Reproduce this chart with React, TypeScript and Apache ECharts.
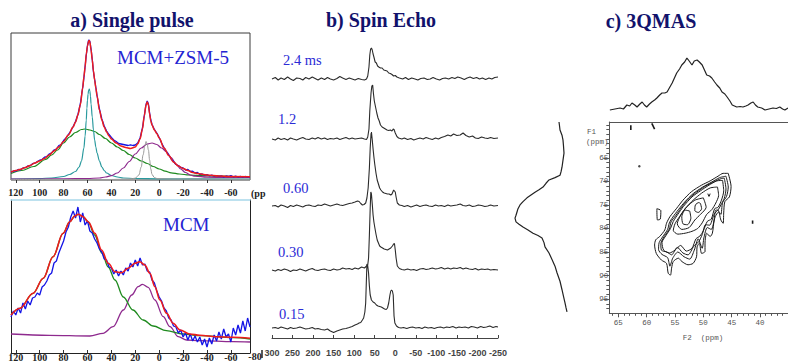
import React, { useEffect, useRef } from "react";
import * as echarts from "echarts";

type P = [number, number];

// ---------- a) Single pulse : MCM+ZSM-5 (ppm, intensity) ----------
const spTicks = [120, 100, 80, 60, 40, 20, 0, -20, -40, -60];

const zsmData: P[] = [[124,7.5],[122,9],[120,8.8],[118,10.5],[116,10.2],[114,12],[112,12.3],[110,14],[108,14.2],[106,16.3],[104,16.8],[102,18.5],[100,19.8],[98,20.5],[96,22.8],[94,23.5],[92,26],[90,27.2],[88,30],[86,31],[84,34.5],[82,35.5],[80,39.5],[78,42],[76,45.5],[74,49],[72,53.5],[70,58.5],[68,65.5],[66,76],[64,92.5],[63,102],[62,113.5],[61,125],[60,134.5],[59,140],[58,138.5],[57,131],[56,120.5],[55,108],[54,100.5],[52,84.5],[50,71],[48,61],[46,54],[44,49],[42,45.5],[40,42.5],[38,40],[36,38.5],[34,36.5],[32,36],[30,35.5],[28,35],[26,34.5],[24,35.2],[22,34.5],[20,35],[18,37],[16,42],[14,52],[12,68],[11,75.5],[10,79],[9,76],[8,67],[7,60],[6,55.5],[4,50.5],[2,47],[0,42.5],[-2,37],[-4,32.5],[-6,28.5],[-8,25],[-10,21],[-12,18.5],[-14,15.5],[-16,14.5],[-18,12.5],[-20,12],[-22,10],[-24,10.5],[-26,8.5],[-28,8.8],[-30,7],[-32,7.5],[-34,5.5],[-36,6],[-38,4.8],[-40,5.5],[-42,4.2],[-44,4.8],[-46,3.8],[-48,4.5],[-50,3.6],[-52,4.2],[-54,3.2],[-56,4],[-58,3.5],[-60,4.5],[-62,3.2],[-64,3.8],[-66,3],[-68,3.6],[-70,2.8],[-72,3.5],[-74,2.9],[-76,3.4]];
const zsmFit: P[] = [[124,8],[120,9.5],[116,10.7],[112,12.5],[108,14.5],[104,17],[100,19],[96,21.5],[92,25],[88,29],[84,33],[80,38.5],[76,45],[72,53],[70,58],[68,65],[66,75],[64,92],[63,103],[62,113],[61,126],[60,134],[59,139],[58.5,139.5],[58,138],[57,130],[56,120],[55,109],[54,100],[53,92],[52,84],[50,70],[48,60],[46,53],[44,48],[42,44],[40,41],[36,37],[32,34],[28,32.5],[24,31.5],[20,33],[18,36],[16,41],[14,51],[12.5,64],[11,75],[10,78],[9,75],[8,66],[7,59],[6,55],[4,50],[2,46.5],[0,42],[-4,32],[-8,24.5],[-12,18],[-16,14],[-20,11.5],[-24,9.5],[-28,7.5],[-32,6.5],[-40,5],[-50,4],[-60,3.5],[-76,3.3]];
const zsmBroad: P[] = [[124,6.5],[115,9.5],[105,13.5],[95,20.5],[90,25],[85,30],[80,37],[75,43],[70,47.5],[65,50.5],[62,51],[58,50],[54,48.5],[50,45.5],[45,41.5],[40,37],[35,33],[30,29.5],[25,25.5],[20,22],[15,19],[10,16.5],[5,13.5],[0,11],[-5,8.8],[-10,7.2],[-17,6],[-25,5],[-35,4.3],[-50,3.8],[-65,3.4],[-76,3.2]];
const zsmNarrow: P[] = [[124,1],[100,1.5],[90,2],[80,3.5],[75,5.5],[70,8.5],[67,13],[65,19],[63,32],[62,44],[61,60],[60.5,72],[60,80],[59.5,86],[59,90],[58.5,91],[58,89],[57.5,84],[57,76],[56,63],[55,50],[54,40],[53,33],[52,27],[50,19],[48,13],[46,9.5],[44,7],[40,4.5],[35,3],[30,2],[20,1.5],[0,1.2],[-76,1]];
const zsmFramework: P[] = [[124,0.8],[100,1],[80,1.2],[60,1.5],[50,2],[45,3],[40,4.3],[35,7],[30,12],[25,18.5],[20,26],[15,32],[10,36],[6,37],[2,35.5],[-2,32],[-6,28.5],[-10,22.5],[-14,16],[-18,11],[-22,7.5],[-26,5],[-30,3.8],[-40,2.8],[-55,2.6],[-76,2.5]];
const zsmSharp: P[] = [[124,0.5],[40,0.5],[25,1],[20,1.8],[17,5],[15,13],[13.5,25],[12,34],[11,38.5],[10,36],[9,30],[8,20],[7,11],[6,5.5],[4,2.5],[2,1.5],[-10,1],[-76,0.8]];

// ---------- a) Single pulse : MCM ----------
const mcmData: P[] = [[124,36],[122,42],[120,38],[118,45],[116,40],[114,50],[112,44],[110,52],[108,48],[106,55],[104,56],[102,60],[100,58],[98,66],[96,68],[94,72],[92,78],[90,80],[88,90],[86,92],[84,100],[82,106],[80,112],[78,121],[76,126],[74,136],[72,142],[70,135],[68,146],[66,131],[64,140],[62,128],[60,132],[58,122],[56,120],[54,114],[52,110],[50,104],[48,101],[46,94],[44,93],[42,86],[40,85],[38,79],[36,83],[34,77],[32,82],[30,78],[28,85],[26,82],[24,90],[22,86],[20,93],[18,87],[16,95],[14,88],[12,89],[10,82],[8,81],[6,73],[4,70],[2,62],[0,56],[-2,52],[-4,45],[-6,42],[-8,35],[-10,33],[-12,27],[-14,26],[-16,20],[-18,23],[-20,16],[-22,20],[-24,13],[-26,19],[-28,12],[-30,17],[-32,11],[-34,16],[-36,8],[-38,14],[-40,6],[-42,15],[-44,9],[-46,18],[-48,12],[-50,21],[-52,14],[-54,24],[-56,16],[-58,19],[-60,11],[-62,25],[-64,18],[-66,28],[-68,20],[-70,32],[-72,22],[-74,35],[-76,26]];
const mcmFit: P[] = [[124,38],[116.6,44.7],[105.5,59.7],[97,74.7],[88.8,96.3],[80.4,119.7],[74.8,131.3],[70.6,137],[67.8,138.7],[63.6,136.3],[59.4,131.3],[53.8,119.7],[48.2,103],[42.6,89.7],[37,81.3],[31.5,80.3],[26,84.7],[20.3,89.7],[16.2,91.3],[12,88],[7.8,79.7],[3.6,66.3],[-0.6,53],[-6.2,39.7],[-11.7,29.7],[-17.4,23],[-25.7,19],[-34,17.7],[-48,16.3],[-62,15.7],[-76,14.7]];
const mcmBroad: P[] = [[124,38],[116.6,44.7],[105.5,59.7],[97,74.7],[88.8,96.3],[80.4,119.7],[74.8,131.3],[70.6,137],[67.8,138.7],[63.6,136.3],[59.4,131],[54,118],[48,100],[42.6,86],[37,73],[30,56],[22,43],[13.4,33],[5,27],[-6,22.3],[-20,19],[-34,17.3],[-62,15.3],[-76,14]];
const mcmSecond: P[] = [[124,19],[92,17.7],[58,17],[47,19.7],[38.5,26.3],[30,43],[23,58],[17.6,66.3],[14,68.7],[9.2,65.7],[3.6,53],[-3.4,36.3],[-9,26.3],[-16,16.3],[-23,13],[-34,12.3],[-62,11.3],[-76,11]];

// ---------- b) Spin echo (ppm, intensity) ----------
const echoTimes = ["2.4 ms", "1.2", "0.60", "0.30", "0.15"];
const echo24: P[] = [[300,0],[292,1.5],[285,-1],[278,1],[270,-0.5],[262,2],[255,0],[248,-1.5],[240,1],[232,0.5],[225,-1],[218,1.5],[210,0],[202,2],[195,0.5],[188,-1],[180,1],[172,-0.5],[165,1.5],[158,0],[150,-1],[142,0.5],[135,2.5],[128,1],[120,-0.5],[112,1],[105,0],[98,-1],[90,0.5],[82,-0.5],[75,-1],[70,0],[67,3],[64,12],[62,24],[60,30],[58,31],[56,29],[54,25],[52,22],[49,17],[46,16],[43,13],[40,12],[36,11],[32,11],[28,9],[24,8.5],[20,8],[16,6],[12,5.5],[8,4.5],[4,3],[0,3.5],[-4,2],[-10,1],[-18,0],[-25,1.5],[-32,-0.5],[-40,1],[-48,0],[-55,-1],[-62,0.5],[-70,1],[-78,-0.5],[-85,0],[-92,1.5],[-100,0],[-108,-1],[-115,0.5],[-122,1],[-130,0],[-138,1.5],[-145,0.5],[-152,2],[-160,1],[-168,-0.5],[-175,1],[-182,2],[-190,0.5],[-198,1.5],[-205,0],[-212,1],[-220,-0.5],[-228,1],[-235,0],[-242,1.5],[-250,2]];
const echo12: P[] = [[300,0],[292,-1],[285,1],[278,-0.5],[270,0.5],[262,-1],[255,1],[248,0],[240,-1],[232,0.5],[225,1.5],[218,0],[210,-0.5],[202,1],[195,0],[188,1.5],[180,0],[172,1],[165,-0.5],[158,0.5],[150,0],[142,1],[135,-0.5],[128,0.5],[120,1.5],[112,0],[105,1],[98,0],[90,0.5],[82,1],[75,0],[70,-0.5],[67,2],[64,10],[62,28],[59,46],[57,53],[55,54],[53,45],[51,38],[48,32],[45,26],[42,21],[39,18],[36,14],[32,12],[28,11],[24,10],[20,9],[16,8.5],[12,9],[8,8],[5,10],[3,9.5],[0,6],[-4,2.5],[-8,1],[-16,0],[-22,1],[-30,-0.5],[-38,0.5],[-45,-1],[-52,0],[-60,1],[-68,0],[-75,1.5],[-82,0.5],[-90,-0.5],[-98,1],[-105,0],[-112,1.5],[-120,2.5],[-128,4],[-135,3],[-142,5],[-150,3.5],[-158,4],[-165,6],[-172,3.5],[-180,2],[-188,3],[-195,1],[-202,0.5],[-210,2],[-218,1],[-225,0.5],[-232,1.5],[-240,0.5],[-250,1]];
const echo060: P[] = [[300,0],[292,0.5],[285,-1],[278,1],[270,0],[262,-1.5],[255,0.5],[248,-0.5],[240,1],[232,0],[225,-1],[218,0.5],[210,1],[202,0],[195,-0.5],[188,1],[180,0.5],[172,2],[165,1],[158,0],[150,1],[142,2],[135,1],[128,0.5],[120,1.5],[112,2.5],[105,3],[98,4],[92,5],[88,4.5],[84,2.5],[80,1],[76,1.5],[72,3],[69,8],[66,18],[63,38],[61,58],[59,72],[58,74],[56,66],[54,57],[52,49],[50,42],[47,33],[44,26],[41,22],[38,18],[35,16],[31,14],[27,13],[23,12.5],[19,12],[15,12],[11,11],[8,12],[6,14],[4,16],[2,15],[0,14],[-2,9],[-5,3],[-10,1],[-16,0.5],[-22,-0.5],[-30,0.5],[-38,-1],[-45,0],[-52,1],[-60,-0.5],[-68,0.5],[-75,1],[-82,0],[-90,-0.5],[-98,1],[-105,0],[-112,0.5],[-120,-0.5],[-128,1],[-135,0],[-142,0.5],[-150,1],[-158,2],[-165,0.5],[-172,0],[-180,1],[-188,-0.5],[-195,0],[-202,1],[-210,0.5],[-218,-0.5],[-225,0],[-232,1],[-240,0],[-250,0.5]];
const echo030: P[] = [[300,0],[292,-1],[285,0.5],[278,-0.5],[270,1],[262,0],[255,-1.5],[248,0],[240,-0.5],[232,1],[225,0],[218,-1],[210,0.5],[202,1.5],[195,0],[188,-0.5],[180,0.5],[172,1],[165,0],[158,-0.5],[150,1],[142,0],[135,0.5],[128,2],[120,1],[112,1.5],[105,0.5],[98,2],[90,1],[82,3],[75,2],[71,3.5],[67,5],[65,12],[63,35],[61,62],[59.5,78],[58,76],[56,66],[54,55],[52,48],[50,43],[47,36],[44,30],[41,27],[38,24],[35,23],[31,22],[27,21],[23,20.5],[19,20],[15,21],[11,22],[7,24],[4,26],[2,26.5],[0,20],[-2,12],[-5,4],[-10,1.5],[-16,0.5],[-22,0],[-30,1],[-38,0],[-45,0.5],[-52,-0.5],[-60,1],[-68,1.5],[-75,0.5],[-82,1],[-90,2],[-98,1],[-105,1.5],[-112,2.5],[-120,1],[-128,2],[-135,1],[-142,2],[-150,1.5],[-158,2.5],[-165,1],[-172,2],[-180,1],[-188,0.5],[-195,1.5],[-202,0],[-210,1],[-218,0.5],[-225,1],[-232,0],[-240,0.5],[-250,0]];
const echo015: P[] = [[300,0],[292,0.5],[285,-0.5],[278,1],[270,0],[262,-1],[255,0.5],[248,-0.5],[240,0],[232,1],[225,0],[218,-1],[210,-0.5],[202,0.5],[195,-1],[188,-0.5],[180,-1.5],[172,-2],[165,-1],[158,-3],[150,-4.5],[142,-3],[135,-2],[128,-1],[120,-0.5],[112,0.5],[105,1.5],[98,3],[92,4],[88,5],[84,5.5],[80,8],[77,10],[74,16],[72,25],[70.5,45],[69,64],[67,62],[65,55],[63,42],[61,33],[58,28],[54,26],[50,25],[46,23],[42,22],[38,21.5],[34,21],[30,20],[26,19],[22,18.5],[19,20],[16,25],[13,33],[11,37],[9,38],[7,37],[5,33],[3,12],[1,5],[-3,2],[-8,0.5],[-14,0],[-20,0.5],[-28,-0.5],[-35,0.5],[-42,1],[-50,0],[-58,0.5],[-65,-0.5],[-72,1],[-80,0],[-88,0.5],[-95,-0.5],[-102,0.5],[-110,1],[-118,0],[-125,1],[-132,0.5],[-140,1.5],[-148,0],[-155,1],[-162,0.5],[-170,1],[-178,0],[-185,1.5],[-192,1],[-200,0],[-208,1.5],[-215,0.5],[-222,1],[-230,2],[-238,0.5],[-245,1.5],[-250,1]];

// ---------- c) 3QMAS ----------
const f2Major = [65, 60, 55, 50, 45, 40];
const f2Minor = [66,64,63,62,61,59,58,57,56,54,53,52,51,49,48,47,46,44,43,42,41,39,38,37,36];
const f1Major = [65, 70, 75, 80, 85, 90, 95];
const f1Minor = [58,59,60,61,62,63,64,66,67,68,69,71,72,73,74,76,77,78,79,81,82,83,84,86,87,88,89,91,92,93,94,96,97];

// F2 projection (F2 ppm, intensity)
const f2Projection: P[] = [[66.5,2],[65.6,3],[64.7,4],[64.1,3],[63.5,7],[63.0,6],[62.6,9],[62.1,7],[61.7,5],[61.2,8],[60.8,10],[60.4,7],[60.0,5],[59.5,8],[59.1,10],[58.6,12],[58.2,14],[57.7,17],[57.3,19],[56.8,19],[56.4,20],[56.0,24],[55.5,29],[55.1,34],[54.7,39],[54.2,43],[53.8,47],[53.3,50],[52.9,54],[52.5,51],[52.0,47],[51.6,51],[51.1,52],[50.7,50],[50.2,47],[49.8,42],[49.4,37],[48.9,36],[48.5,34],[48.0,30],[47.6,27],[47.1,24],[46.7,20],[46.2,18],[45.8,15],[45.3,11],[44.9,7],[44.5,6],[44.1,5],[43.5,5.5],[43.0,5],[42.5,6],[42.1,7],[41.6,9],[41.2,10],[40.8,7],[40.4,5],[39.7,4],[39.1,2],[38.4,3],[37.7,4],[37.1,3.5],[36.5,5],[36.0,3],[35.6,2],[35.05,4]];
// F1 projection (intensity, F1 ppm)
const f1Projection: P[] = [[8,57.4],[7.5,58.2],[7,59.1],[5,60.2],[4,61.25],[3.5,62.5],[3,64.0],[4,65.5],[5,67.0],[6,68.0],[7,68.7],[12,69.2],[18,69.7],[21,70.4],[24,71.2],[28,71.8],[32,72.3],[36,72.9],[40,73.5],[44,74.3],[47,75.0],[49,75.8],[50,76.5],[51,77.2],[52,77.8],[51,78.6],[48,79.1],[44,79.7],[39,80.3],[34,81.0],[29,81.5],[25,82.0],[23,83.0],[22,83.9],[18,85.2],[15,86.6],[12,88.0],[10,89.4],[7,91.2],[5,93.0],[3.5,94.4],[2,95.8],[1,96.8],[0,97.7]];
// contour levels (F2 ppm, F1 ppm)
const contour1: P[] = [[45.6,68.3],[45.1,71.1],[45.4,73.3],[46.2,74.3],[46.4,76.7],[46.5,78.9],[46.9,78.2],[47.4,76.1],[47.8,76.1],[48.1,78.2],[48.4,81.0],[48.8,81.7],[49.4,81.0],[49.7,83.1],[49.7,84.9],[50.3,85.3],[50.7,83.1],[51.1,83.9],[51.2,86.0],[51.8,87.4],[52.7,87.7],[53.8,87.0],[54.4,86.3],[55.3,87.0],[55.6,88.4],[55.8,89.9],[56.2,89.5],[56.5,87.4],[57.4,86.7],[58.3,85.3],[58.6,83.5],[58.4,82.4],[57.7,81.7],[56.8,80.3],[56.5,78.9],[55.9,77.5],[54.7,75.7],[53.6,74.0],[52.1,72.2],[50.3,70.8],[48.8,69.9],[47.4,68.9],[46.5,68.3],[45.6,68.3]];
const contour2: P[] = [[46.0,68.9],[45.6,71.2],[45.9,73.2],[46.6,74.5],[46.9,77.0],[47.3,76.5],[47.9,77.5],[48.6,80.2],[49.3,79.8],[49.9,82.0],[50.2,84.2],[50.9,82.2],[51.6,84.6],[52.4,86.5],[53.4,86.0],[54.5,85.0],[55.4,86.3],[55.9,88.0],[56.3,86.2],[57.3,85.5],[57.9,84.5],[57.8,83.0],[57.2,81.8],[56.3,80.2],[56.0,78.8],[55.4,77.6],[54.4,76.0],[53.3,74.4],[51.8,72.6],[50.1,71.2],[48.6,70.2],[47.1,69.2],[46.0,68.9]];
const contour2b: P[] = [[46.3,69.3],[46.0,71.6],[46.3,73.6],[46.9,75.0],[47.3,75.9],[48.1,77.0],[48.9,79.3],[49.6,79.2],[50.2,81.3],[50.8,82.8],[51.7,83.8],[52.7,85.6],[53.6,85.2],[54.6,84.0],[55.6,85.6],[56.4,85.0],[57.4,84.6],[57.5,83.2],[56.9,81.7],[56.0,80.1],[55.7,78.6],[54.9,77.3],[53.9,75.6],[52.7,73.8],[51.2,72.3],[49.6,71.0],[48.0,70.0],[46.8,69.4],[46.3,69.3]];
const contour3: P[] = [[46.6,69.8],[46.4,72.0],[46.8,74.0],[47.4,75.5],[48.0,75.8],[48.6,78.0],[49.3,78.5],[50.0,80.5],[50.6,81.6],[51.3,82.2],[52.0,84.2],[53.0,84.8],[54.0,83.6],[55.0,84.6],[56.0,85.2],[57.0,84.6],[57.3,83.0],[56.6,81.5],[55.8,80.0],[55.3,78.5],[54.5,77.0],[53.5,75.3],[52.0,73.3],[50.5,72.0],[49.0,70.8],[47.6,69.9],[46.6,69.8]];
const contour4: P[] = [[47.5,71.2],[47.3,73.0],[47.8,74.6],[48.5,76.0],[49.4,77.0],[50.2,78.8],[51.0,80.0],[52.0,80.6],[53.2,81.0],[54.5,81.2],[55.3,80.4],[55.0,79.0],[54.2,77.5],[53.2,75.8],[51.8,74.0],[50.3,72.5],[48.8,71.4],[47.5,71.2]];
const contour5: P[] = [[50.0,73.5],[49.5,75.5],[50.5,77.0],[51.5,78.2],[52.5,79.8],[53.8,80.2],[54.6,79.0],[54.0,77.2],[53.0,75.5],[51.5,74.0],[50.0,73.5]];
const contour6a: P[] = [[52.4,76.3],[52.2,77.8],[52.8,79.2],[53.6,79.0],[53.8,77.5],[53.2,76.1],[52.4,76.3]];
const contour6b: P[] = [[50.5,74.7],[50.3,75.8],[50.9,76.6],[51.5,76.2],[51.4,75.0],[50.8,74.5],[50.5,74.7]];
const contourSide: P[] = [[58.2,75.8],[58.1,78.2],[57.6,78.0],[57.5,76.2],[58.2,75.8]];
const contourTick: P[] = [[49.2,72.6],[49.0,73.2],[48.8,72.6]];
const speck1: P[] = [[62.8,58.1],[62.8,59.1]];
const speck2: P[] = [[59.1,57.7],[58.6,58.9]];
const speck3: P[] = [[41.3,78.3],[41.3,79.0]];
const speckDots: P[] = [[61.3,66.8]];

const SERIF = "'Liberation Serif', 'Times New Roman', serif";
const MONO = "'Liberation Mono', 'DejaVu Sans Mono', monospace";

function line(data: P[], xi: number, yi: number, color: string, width: number, extra: any = {}) {
  return {
    type: "line", data, xAxisIndex: xi, yAxisIndex: yi, showSymbol: false, symbol: "none",
    lineStyle: { color, width }, clip: false, silent: true, animation: false, ...extra,
  };
}

function buildOption() {
  const grids: any[] = [
    { left: 11, top: 33, width: 239, height: 147, show: true, borderColor: "#3a3a3a", borderWidth: 1 },
    { left: 11, top: 200, width: 239, height: 153 },
    { left: 272, top: 9, width: 226, height: 80 },
    { left: 272, top: 69, width: 226, height: 80 },
    { left: 272, top: 136, width: 226, height: 80 },
    { left: 272, top: 200, width: 226, height: 80 },
    { left: 272, top: 258, width: 226, height: 80 },
    { left: 609.3, top: 50, right: 0, height: 62 },
    { left: 510, top: 122, width: 57, height: 191.3 },
    { left: 609.3, top: 122, right: 0, height: 191.3 },
  ].map((g) => ({ containLabel: false, outerBoundsMode: "none", ...g }));

  const hidden = (gi: number, min: number, max: number, inverse = false) => ({
    type: "value", gridIndex: gi, min, max, inverse, show: false,
  });
  const lineOn = (color: string, width = 1) => ({ show: true, onZero: false, lineStyle: { color, width } });
  const noLine = { show: false, onZero: false };
  const spLabel = { fontFamily: SERIF, fontWeight: "bold", fontSize: 10, color: "#222" };
  const c2Label = { fontFamily: MONO, fontSize: 7.5, color: "#555" };

  const xAxis: any[] = [
    { type: "value", gridIndex: 0, min: -76, max: 124, inverse: true, position: "bottom",
      axisLine: noLine, splitLine: { show: false },
      axisTick: { show: true, length: 3, customValues: spTicks, lineStyle: { color: "#333" } },
      axisLabel: { ...spLabel, customValues: spTicks, margin: 7 } },
    { type: "value", gridIndex: 1, min: -76, max: 124, inverse: true, position: "bottom",
      axisLine: lineOn("#222"), splitLine: { show: false },
      axisTick: { show: true, inside: true, length: 3, customValues: spTicks, lineStyle: { color: "#333" } },
      axisLabel: { ...spLabel, customValues: spTicks, margin: -1 } },
    { type: "value", gridIndex: 1, min: -76, max: 124, inverse: true, position: "top",
      axisLine: lineOn("#a8d8ea", 1.5),
      axisTick: { show: false }, axisLabel: { show: false }, splitLine: { show: false } },
    hidden(2, -250, 300, true),
    hidden(3, -250, 300, true),
    hidden(4, -250, 300, true),
    hidden(5, -250, 300, true),
    { type: "value", gridIndex: 6, min: -250, max: 300, interval: 50, inverse: true, position: "bottom",
      axisLine: lineOn("#444"), splitLine: { show: false },
      axisTick: { show: true, inside: true, length: 3, lineStyle: { color: "#444" } },
      axisLabel: { fontFamily: "'Liberation Sans', Arial, sans-serif", fontWeight: "bold", fontSize: 9, color: "#444", margin: 10 } },
    hidden(7, 35.05, 66.6, true),
    hidden(8, 0, 57, true),
    { type: "value", gridIndex: 9, min: 35.05, max: 66.6, inverse: true, position: "bottom",
      axisLine: lineOn("#555"), splitLine: { show: false },
      axisTick: { show: true, length: 4, customValues: f2Major, lineStyle: { color: "#555" } },
      axisLabel: { ...c2Label, customValues: f2Major, margin: 6 } },
    { type: "value", gridIndex: 9, min: 35.05, max: 66.6, inverse: true, position: "bottom",
      axisLine: noLine, splitLine: { show: false }, axisLabel: { show: false },
      axisTick: { show: true, length: 2.5, customValues: f2Minor, lineStyle: { color: "#555" } } },
    { type: "value", gridIndex: 9, min: 35.05, max: 66.6, inverse: true, position: "top",
      axisLine: lineOn("#555"), axisTick: { show: false }, axisLabel: { show: false }, splitLine: { show: false } },
  ];

  const yAxis: any[] = [
    hidden(0, 0, 147),
    { type: "value", gridIndex: 1, min: 0, max: 153, position: "left",
      axisLine: lineOn("#222"),
      axisTick: { show: false }, axisLabel: { show: false }, splitLine: { show: false } },
    { type: "value", gridIndex: 1, min: 0, max: 153, position: "right",
      axisLine: lineOn("#222"),
      axisTick: { show: false }, axisLabel: { show: false }, splitLine: { show: false } },
    hidden(2, -10, 70),
    hidden(3, -10, 70),
    hidden(4, -10, 70),
    hidden(5, -10, 70),
    hidden(6, -10, 70),
    hidden(7, 0, 62),
    hidden(8, 57.4, 98, true),
    { type: "value", gridIndex: 9, min: 57.4, max: 98, inverse: true, position: "left",
      axisLine: lineOn("#555"), splitLine: { show: false },
      axisTick: { show: true, length: 6, customValues: f1Major, lineStyle: { color: "#555" } },
      axisLabel: { ...c2Label, customValues: f1Major, margin: 1 } },
    { type: "value", gridIndex: 9, min: 57.4, max: 98, inverse: true, position: "left",
      axisLine: noLine, splitLine: { show: false }, axisLabel: { show: false },
      axisTick: { show: true, length: 3, customValues: f1Minor, lineStyle: { color: "#555" } } },
  ];

  const fitSmooth = { smooth: 0.35, smoothMonotone: "x" };
  const echoes = [echo24, echo12, echo060, echo030, echo015];
  const contours = [contour1, contour2, contour2b, contour3, contour4, contour5, contour6a, contour6b, contourSide, contourTick];
  const specks = [speck1, speck2, speck3];

  const series: any[] = [
    line(zsmBroad, 0, 0, "#1e8a1e", 1.2, fitSmooth),
    line(zsmNarrow, 0, 0, "#2a9a9e", 1.2, fitSmooth),
    line(zsmFramework, 0, 0, "#8e2a8e", 1.2, fitSmooth),
    line(zsmSharp, 0, 0, "#9a9a9a", 1, fitSmooth),
    line(zsmData, 0, 0, "#1414e6", 1.3),
    line(zsmFit, 0, 0, "#ee1c1c", 1.5, fitSmooth),

    line(mcmSecond, 1, 1, "#8e2a8e", 1.3, fitSmooth),
    line(mcmBroad, 1, 1, "#1e8a1e", 1.3, fitSmooth),
    line(mcmData, 1, 1, "#1414e6", 1.3),
    line(mcmFit, 1, 1, "#ee1c1c", 1.6, fitSmooth),

    ...echoes.map((d, i) => line(d, 3 + i, 3 + i, "#2b2b2b", 1.1)),

    line(f2Projection, 8, 8, "#222", 1.2),
    line(f1Projection, 9, 9, "#222", 1.2),
    ...contours.map((d) => line(d, 10, 10, "#1a1a1a", 1, { smooth: 0.25 })),
    ...specks.map((d) => line(d, 10, 10, "#1a1a1a", 1.6)),
    { type: "scatter", data: speckDots, xAxisIndex: 10, yAxisIndex: 10, symbolSize: 2.5,
      itemStyle: { color: "#1a1a1a" }, silent: true, animation: false },
  ];

  const titleStyle = { fontFamily: SERIF, fontWeight: "bold", fontSize: 20, fill: "#12126c", textAlign: "center", textVerticalAlign: "middle" };
  const blueText = { fontFamily: SERIF, fontSize: 19, fill: "#2424d2", textVerticalAlign: "middle" };
  const echoPos = [[283, 60], [278, 119], [283, 188], [278, 252], [279, 314]];

  const graphic: any[] = [
    { type: "text", x: 132, y: 20, style: { ...titleStyle, text: "a) Single pulse" } },
    { type: "text", x: 381, y: 20, style: { ...titleStyle, text: "b) Spin Echo" } },
    { type: "text", x: 651, y: 21, style: { ...titleStyle, text: "c) 3QMAS" } },
    { type: "text", x: 117, y: 57, style: { ...blueText, text: "MCM+ZSM-5" } },
    { type: "text", x: 163, y: 224, style: { ...blueText, text: "MCM" } },
    { type: "text", x: 251, y: 193, style: { fontFamily: SERIF, fontWeight: "bold", fontSize: 10, fill: "#222", textVerticalAlign: "middle", text: "(pp" } },
    { type: "text", x: 255, y: 356.5, style: { fontFamily: SERIF, fontWeight: "bold", fontSize: 10, fill: "#222", textAlign: "center", textVerticalAlign: "middle", text: "-80" } },
    ...echoTimes.map((t, i) => ({
      type: "text", x: echoPos[i][0], y: echoPos[i][1],
      style: { fontFamily: SERIF, fontSize: 14.5, fill: "#2b2bd6", textVerticalAlign: "middle", text: t },
    })),
    { type: "text", x: 587, y: 132, style: { fontFamily: MONO, fontSize: 7.5, fill: "#555", textVerticalAlign: "middle", text: "F1" } },
    { type: "text", x: 586, y: 142, style: { fontFamily: MONO, fontSize: 7.5, fill: "#555", textVerticalAlign: "middle", text: "(ppm)" } },
    { type: "text", x: 703, y: 338, style: { fontFamily: MONO, fontSize: 7.5, fill: "#555", textAlign: "center", textVerticalAlign: "middle", text: "F2  (ppm)" } },
    { type: "line", shape: { x1: 262, y1: 350, x2: 262, y2: 358 }, style: { stroke: "#222", lineWidth: 1.5 } },
  ];

  return { animation: false, backgroundColor: "#ffffff", grid: grids, xAxis, yAxis, series, graphic };
}

export default function App() {
  const ref = useRef<HTMLDivElement>(null);
  useEffect(() => {
    if (!ref.current) return;
    const chart = echarts.init(ref.current, null, { renderer: "svg" });
    chart.setOption(buildOption() as any);
    return () => chart.dispose();
  }, []);
  return (
    <div
      ref={ref}
      style={{ position: "fixed", left: 0, top: 0, width: 788, height: 362, background: "#fff" }}
    />
  );
}
